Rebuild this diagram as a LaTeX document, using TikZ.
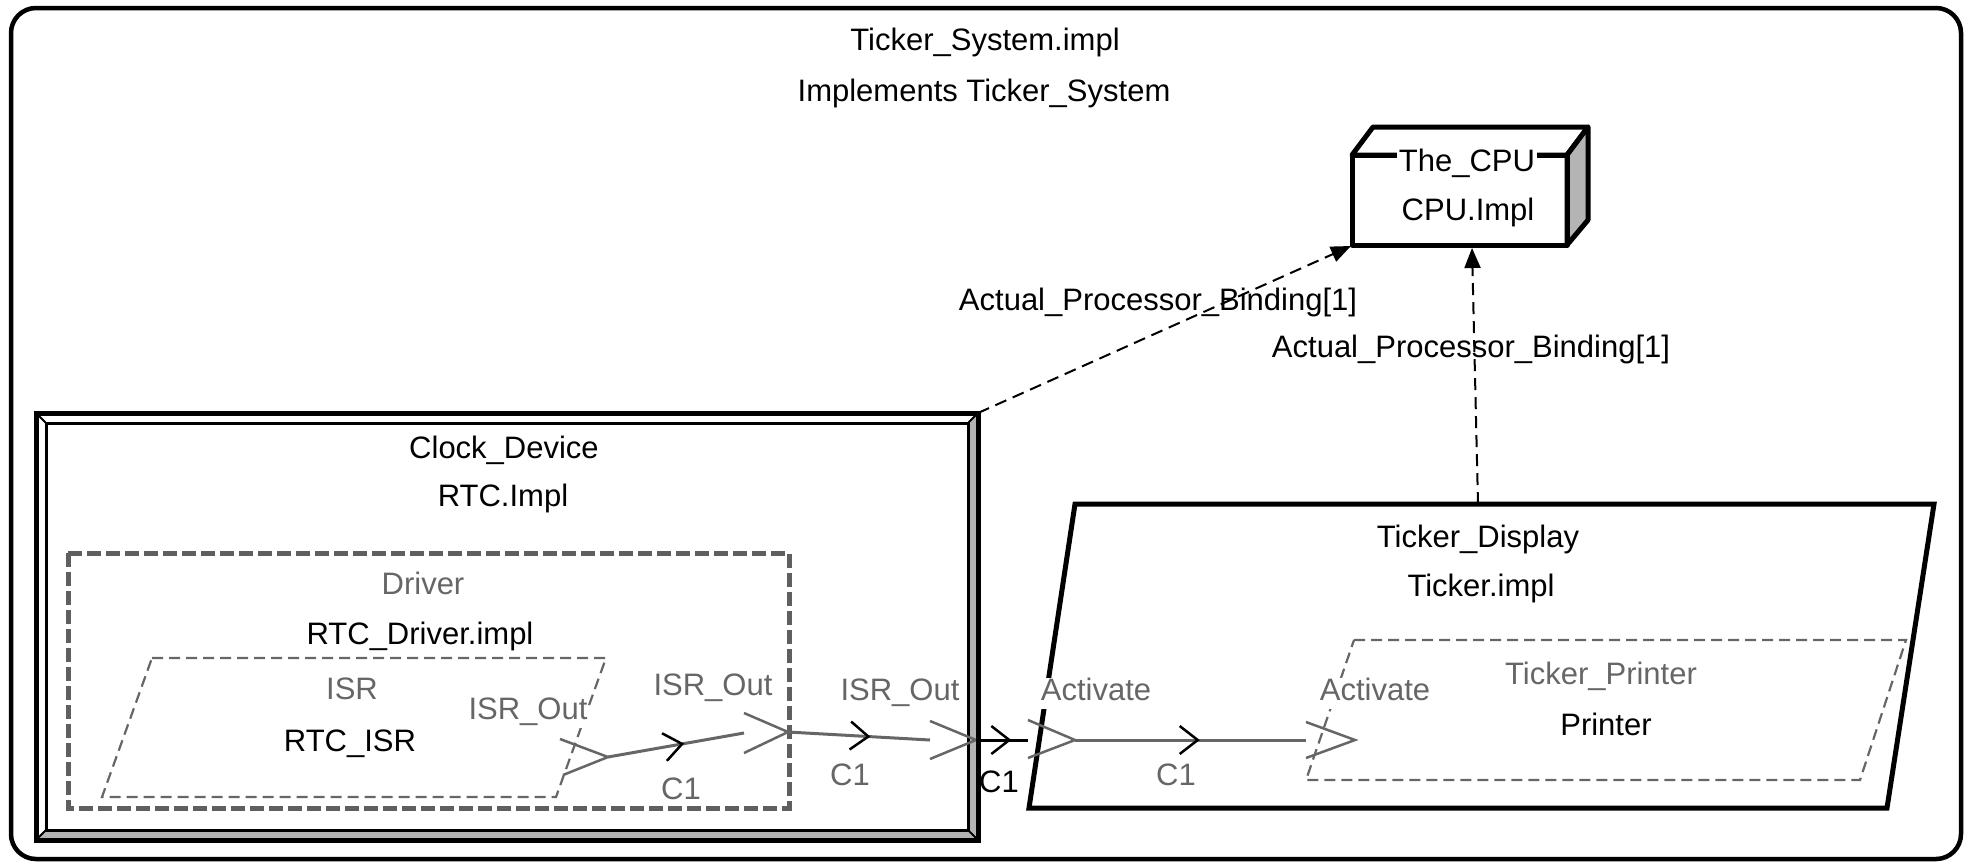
\documentclass[tikz,border=0pt]{standalone}
\usepackage{fontspec}
\setmainfont{Liberation Sans}
\usetikzlibrary{arrows.meta,decorations.markings}
\definecolor{gr}{HTML}{666666}
\definecolor{drv}{HTML}{5F5F5F}
\definecolor{bev}{HTML}{B4B4B4}
\begin{document}
\begin{tikzpicture}[x=1pt,y=-1pt,
  txt/.style={font=\fontsize{31pt}{37pt}\selectfont, inner sep=1pt, text height=22pt, text depth=7pt, yshift=-5pt},
  gtxt/.style={txt, text=gr},
  wtxt/.style={gtxt, fill=white},
  conn/.style={draw=gr, line width=3pt},
  bconn/.style={draw=black, line width=3pt},
  portln/.style={draw=gr, line width=2.5pt},
  chev/.style={postaction={decorate, decoration={markings,
      mark=at position #1 with {\arrow{Straight Barb[length=18pt,width=28pt,line width=2.5pt,color=black]}}}}},
  bind/.style={draw=black, line width=2pt, dash pattern=on 12pt off 7pt, -{Triangle[length=20pt,width=16pt]}},
  thinDash/.style={draw=gr, line width=2.2pt, dash pattern=on 11pt off 6pt},
  thickbox/.style={draw=black, line width=5pt, line join=round}]
\useasboundingbox (0,0) rectangle (1968,863);

% outer system frame
\draw[line width=4.5pt, rounded corners=25pt] (11,8) rectangle (1961,859);
\node[txt] (systitle) at (985,38) {Ticker\_System.impl};
\node[txt] (sysimpl) at (984,89) {Implements Ticker\_System};

% CPU
\draw[thickbox, fill=white] (1352,155) -- (1373,127) -- (1588,127) -- (1567,155) -- cycle;
\draw[thickbox, fill=bev] (1567,155) -- (1588,127) -- (1588,220) -- (1567,245) -- cycle;
\draw[thickbox] (1352,155) rectangle (1567,245);
\node[txt, fill=white, inner sep=2pt] (cpuname) at (1467,159) {The\_CPU};
\node[txt] (cpuimpl) at (1468,208) {CPU.Impl};

% Clock device (bevel frame)
\fill[bev] (978,413) -- (978,840) -- (36,840) -- (46,830) -- (968,830) -- (968,423) -- cycle;
\draw[line width=5pt] (36,413) rectangle (978,840);
\draw[line width=3pt] (46,423) rectangle (968,830);
\draw[line width=2pt] (36,413) -- (46,423) (978,413) -- (968,423) (36,840) -- (46,830) (978,840) -- (968,830);
\node[txt] (clkname) at (504,446) {Clock\_Device};
\node[txt] (clkimpl) at (503,494) {RTC.Impl};

% Driver
\draw[drv, line width=5pt, dash pattern=on 14pt off 5pt] (68,553) rectangle (789,808);
\node[gtxt] (drvname) at (423,582) {Driver};
\node[txt] (drvimpl) at (420,632) {RTC\_Driver.impl};

% ISR
\draw[thinDash] (152,658) -- (606,658) -- (556,797) -- (102,797) -- cycle;
\node[gtxt] (isrname) at (352,687) {ISR};
\node[txt] (isrimpl) at (350,739) {RTC\_ISR};

% Ticker display
\draw[draw=black, line width=5pt] (1075,504) -- (1934,504) -- (1887,808) -- (1029,808) -- cycle;
\node[txt] (tdname) at (1478,535) {Ticker\_Display};
\node[txt] (tdimpl) at (1481,584) {Ticker.impl};

% Ticker printer
\draw[thinDash] (1354,640) -- (1906,640) -- (1860,780) -- (1306,780) -- cycle;
\node[gtxt] (tpname) at (1601,672) {Ticker\_Printer};
\node[txt] (tpimpl) at (1606,723) {Printer};

% port coordinates
\coordinate (isrP) at (608,757);
\coordinate (drvB) at (744,733);
\coordinate (drvP) at (788,732);
\coordinate (clkB) at (930,740);
\coordinate (clkP) at (976,740);
\coordinate (tdB) at (1028,740);
\coordinate (tdP) at (1075,740);
\coordinate (tpB) at (1306,740);
\coordinate (tpP) at (1355,740);

% ports
\draw[portln] (560,739) -- (isrP) -- (563,775);
\draw[portln] (744,713) -- (drvP) -- (744,753);
\draw[portln] (930,721) -- (clkP) -- (930,759);
\draw[portln] (1028,720) -- (tdP) -- (1028,758);
\draw[portln] (1306,722) -- (tpP) -- (1306,758);

% connections
\draw[conn, chev=0.56] (isrP) -- (drvB);
\draw[conn, chev=0.58] (drvP) -- (clkB);
\draw[bconn, chev=0.68] (clkP) -- (tdB);
\draw[conn, chev=0.54] (tdP) -- (tpB);

% port / connection labels
\node[wtxt] (isrout1) at (528,707) {ISR\_Out};
\node[gtxt] (isrout2) at (713,683) {ISR\_Out};
\node[gtxt] (c1a) at (681,787) {C1};
\node[gtxt] (isrout3) at (900,688) {ISR\_Out};
\node[gtxt] (c1b) at (850,773) {C1};
\node[txt] (c1c) at (999,780) {C1};
\node[wtxt] (act1) at (1096,688) {Activate};
\node[wtxt] (act2) at (1375,688) {Activate};
\node[gtxt] (c1d) at (1176,773) {C1};

% processor bindings
\coordinate (clkTR) at (978,413);
\coordinate (cpuBL) at (1351,246);
\coordinate (tdTop) at (1478,504);
\coordinate (cpuB) at (1472,248);
\draw[bind] (clkTR) -- (cpuBL);
\draw[bind] (tdTop) -- (cpuB);
\node[txt] (bind1) at (1158,298) {Actual\_Processor\_Binding[1]};
\node[txt] (bind2) at (1471,345) {Actual\_Processor\_Binding[1]};
\end{tikzpicture}
\end{document}
